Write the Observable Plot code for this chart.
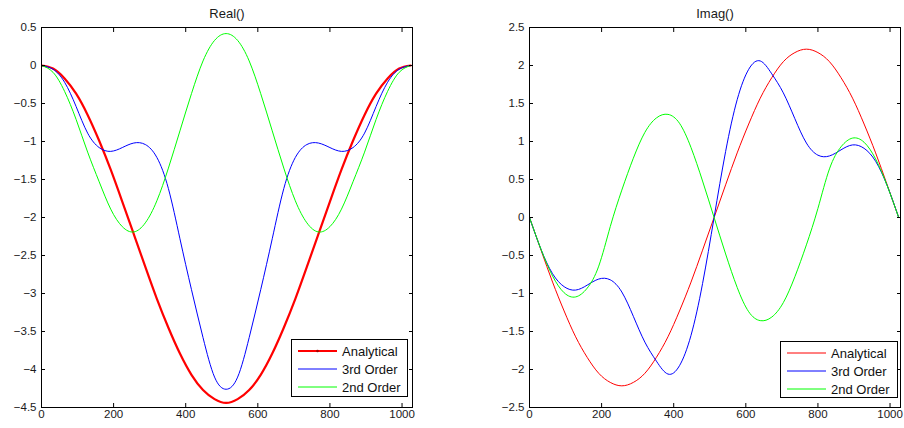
<!DOCTYPE html>
<html>
<head>
<meta charset="utf-8">
<script src="https://cdn.jsdelivr.net/npm/d3@7"></script>
<script src="https://cdn.jsdelivr.net/npm/@observablehq/plot@0.6"></script>
<style>
  html, body { margin: 0; padding: 0; background: #fff; }
  body { font-family: "Liberation Sans", Arial, Helvetica, sans-serif; }
  #wrap { display: flex; width: 904px; height: 428px; }
  .panel { position: relative; width: 452px; height: 428px; }
  .legend { position: absolute; border: 1px solid #000; background: #fff; box-sizing: border-box;
            font-size: 13px; color: #111; padding-top: 2px; padding-left: 6px; }
  .row { display: flex; align-items: center; height: 18px; white-space: nowrap; }
  .row svg { display: block; margin-right: 5px; flex: none; }
</style>
</head>
<body>
<div id="wrap"></div>
<script>
// ---- data ----
const xs = [0, 32, 64, 96, 128, 160, 192, 224, 256, 288, 320, 352, 384, 416, 448, 480, 512,
            544, 576, 608, 640, 672, 704, 736, 768, 800, 832, 864, 896, 928, 960, 992, 1024];

const seriesNames = ["Analytical", "3rd Order", "2nd Order"];
const seriesColors = ["#ff0000", "#0000ff", "#00ff00"];

const realAnalytical = [0, -0.04, -0.17, -0.37, -0.65, -0.99, -1.37, -1.79, -2.22, -2.65, -3.07, -3.45, -3.79, -4.07, -4.27, -4.39, -4.44,
                        -4.39, -4.27, -4.07, -3.79, -3.45, -3.07, -2.65, -2.22, -1.79, -1.37, -0.99, -0.65, -0.37, -0.17, -0.04, 0];
const realThird = [0, -0.05, -0.22, -0.54, -0.89, -1.08, -1.13, -1.08, -1.02, -1.04, -1.21, -1.62, -2.28, -2.95, -3.58, -4.10, -4.26,
                   -4.10, -3.58, -2.95, -2.28, -1.62, -1.21, -1.04, -1.02, -1.08, -1.13, -1.08, -0.89, -0.54, -0.22, -0.05, 0];
const realSecond = [0, -0.09, -0.34, -0.71, -1.14, -1.53, -1.89, -2.12, -2.19, -2.07, -1.78, -1.35, -0.86, -0.37, 0.06, 0.33, 0.42,
                    0.33, 0.06, -0.37, -0.86, -1.35, -1.78, -2.07, -2.19, -2.12, -1.89, -1.53, -1.14, -0.71, -0.34, -0.09, 0];

const imagAnalytical = [0, -0.43, -0.85, -1.23, -1.57, -1.84, -2.05, -2.17, -2.215, -2.17, -2.05, -1.84, -1.57, -1.23, -0.85, -0.43, 0,
                        0.43, 0.85, 1.23, 1.57, 1.84, 2.05, 2.17, 2.215, 2.17, 2.05, 1.84, 1.57, 1.23, 0.85, 0.43, 0];
const imagThird = [0, -0.42, -0.74, -0.91, -0.955, -0.89, -0.81, -0.82, -0.98, -1.30, -1.64, -1.89, -2.06, -1.95, -1.55, -0.87, 0,
                   0.87, 1.55, 1.95, 2.06, 1.89, 1.64, 1.30, 0.98, 0.82, 0.81, 0.89, 0.955, 0.91, 0.74, 0.42, 0];
const imagSecond = [0, -0.42, -0.77, -0.99, -1.045, -0.93, -0.64, -0.12, 0.36, 0.78, 1.12, 1.31, 1.357, 1.24, 0.92, 0.48, 0,
                    -0.48, -0.92, -1.24, -1.357, -1.31, -1.12, -0.78, -0.36, 0.12, 0.64, 0.93, 1.045, 0.99, 0.77, 0.42, 0];

const xTicks = [0, 200, 400, 600, 800, 1000];
const realTicks = [-4.5, -4, -3.5, -3, -2.5, -2, -1.5, -1, -0.5, 0, 0.5];
const imagTicks = [-2.5, -2, -1.5, -1, -0.5, 0, 0.5, 1, 1.5, 2, 2.5];
const xDomain = [0, 1029];
const realDomain = [-4.5, 0.5];
const imagDomain = [-2.5, 2.5];

// ---- drawing ----
const fmt = d3.format("~g");
const textColor = "#1a1a1a";

function makePanel({title, yDomain, yTicks, values, widths, marginLeft, marginRight}) {
  const lines = values.map((vals, k) =>
    Plot.line(xs.map((x, i) => ({x, y: vals[i]})), {
      x: "x", y: "y", stroke: seriesColors[k], strokeWidth: widths[k], curve: "natural", clip: true
    })
  );
  return Plot.plot({
    width: 452, height: 428,
    marginLeft, marginRight, marginTop: 27, marginBottom: 21,
    style: {fontFamily: "'Liberation Sans', Arial, Helvetica, sans-serif", fontSize: "11.5px", color: textColor, background: "#fff"},
    x: {domain: xDomain, label: null},
    y: {domain: yDomain, label: null},
    marks: [
      ...lines,
      Plot.frame({stroke: "#000", strokeWidth: 1}),
      Plot.axisX(xTicks, {anchor: "bottom", tickSize: 0, tickPadding: 2, tickFormat: fmt, label: null}),
      Plot.axisX(xTicks, {anchor: "bottom", tickSize: -4, fill: "none", stroke: "#000", label: null}),
      Plot.axisX(xTicks, {anchor: "top", tickSize: -4, fill: "none", stroke: "#000", label: null}),
      Plot.axisY(yTicks, {anchor: "left", tickSize: 0, tickPadding: 5, tickFormat: fmt, label: null}),
      Plot.axisY(yTicks, {anchor: "left", tickSize: -4, fill: "none", stroke: "#000", label: null}),
      Plot.axisY(yTicks, {anchor: "right", tickSize: -4, fill: "none", stroke: "#000", label: null}),
      Plot.text([title], {text: d => d, frameAnchor: "top", lineAnchor: "bottom", dy: -10, fontSize: 13, fill: textColor})
    ]
  });
}

const SVGNS = "http://www.w3.org/2000/svg";
function makeLegend({left, top, width, height, widths, dot}) {
  const lg = document.createElement("div");
  lg.className = "legend";
  Object.assign(lg.style, {left: left + "px", top: top + "px", width: width + "px", height: height + "px"});
  seriesNames.forEach((name, k) => {
    const row = document.createElement("div");
    row.className = "row";
    const svg = document.createElementNS(SVGNS, "svg");
    svg.setAttribute("width", "39");
    svg.setAttribute("height", "18");
    const ln = document.createElementNS(SVGNS, "line");
    ln.setAttribute("x1", "0"); ln.setAttribute("x2", "39");
    ln.setAttribute("y1", "9"); ln.setAttribute("y2", "9");
    ln.setAttribute("stroke", seriesColors[k]);
    ln.setAttribute("stroke-width", String(widths[k]));
    svg.appendChild(ln);
    if (dot && k === 0) {
      const c = document.createElementNS(SVGNS, "circle");
      c.setAttribute("cx", "19.5"); c.setAttribute("cy", "9"); c.setAttribute("r", "1.3");
      c.setAttribute("fill", "#a00000");
      svg.appendChild(c);
    }
    const tx = document.createElement("span");
    tx.textContent = name;
    row.appendChild(svg);
    row.appendChild(tx);
    lg.appendChild(row);
  });
  return lg;
}

const wrap = document.getElementById("wrap");

const p1 = document.createElement("div");
p1.className = "panel";
p1.appendChild(makePanel({
  title: "Real()", yDomain: realDomain, yTicks: realTicks,
  values: [realAnalytical, realThird, realSecond], widths: [2.2, 1, 1],
  marginLeft: 41, marginRight: 40
}));
p1.appendChild(makeLegend({left: 291, top: 339, width: 117, height: 58, widths: [2, 1, 1], dot: true}));
wrap.appendChild(p1);

const p2 = document.createElement("div");
p2.className = "panel";
p2.appendChild(makePanel({
  title: "Imag()", yDomain: imagDomain, yTicks: imagTicks,
  values: [imagAnalytical, imagThird, imagSecond], widths: [1, 1, 1],
  marginLeft: 77, marginRight: 4
}));
p2.appendChild(makeLegend({left: 328, top: 341, width: 118, height: 57, widths: [1, 1, 1], dot: false}));
wrap.appendChild(p2);
</script>
</body>
</html>
